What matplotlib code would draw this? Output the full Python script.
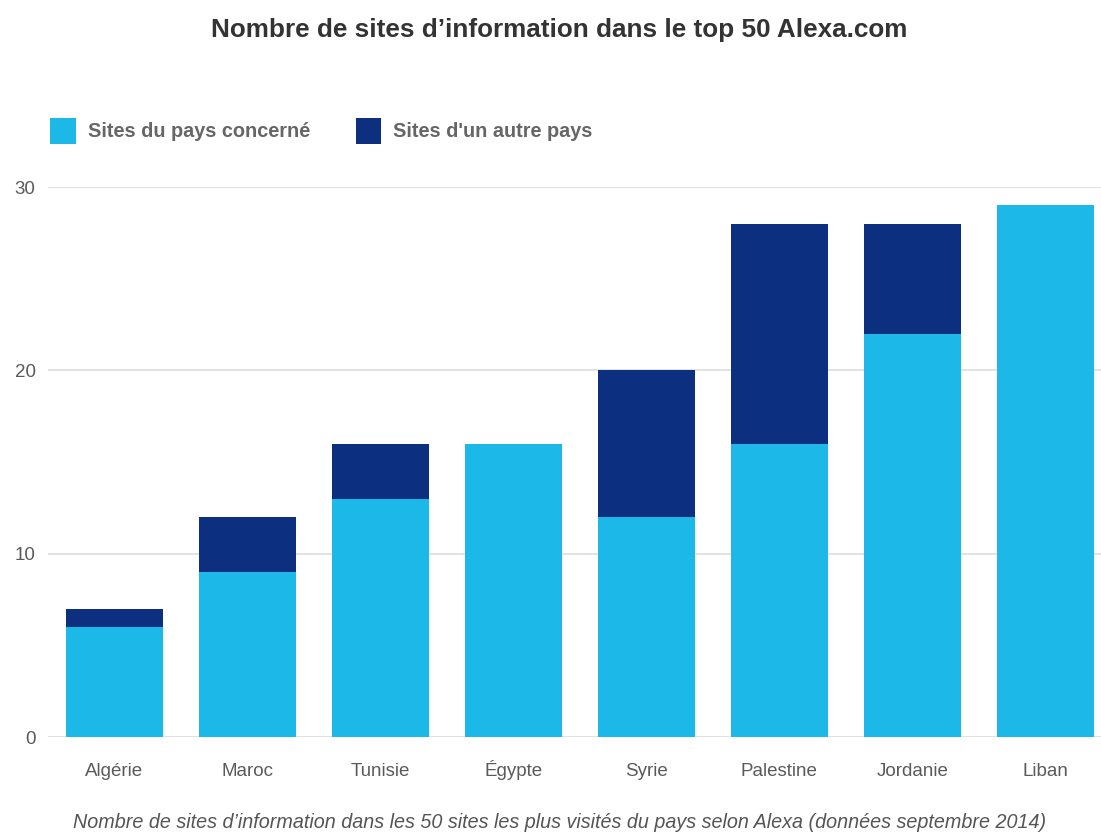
import numpy as np
from matplotlib import pyplot as plt

pays = ['Algérie', 'Maroc', 'Tunisie', 'Égypte', 'Syrie', 'Palestine', 'Jordanie', 'Liban']
sites_pays = [6, 9, 13, 16, 12, 16, 22, 29]
sites_autre = [1, 3, 3, 0, 8, 12, 6, 0]
yticks = [0, 10, 20, 30]

light = '#1cb8e8'
dark = '#0c2f80'

plt.rcParams['font.family'] = ['Liberation Sans', 'DejaVu Sans']

fig = plt.figure(figsize=(11.01, 8.34), dpi=100)
ax = fig.add_axes([48 / 1101, 97 / 834, 1 - 48 / 1101, 550 / 834])

x = np.arange(len(pays))
ax.bar(x, sites_pays, width=0.73, color=light, label='Sites du pays concerné', zorder=3)
ax.bar(x, sites_autre, width=0.73, bottom=sites_pays, color=dark, label="Sites d'un autre pays", zorder=3)

ax.set_xlim(-0.5, 7.42)
ax.set_ylim(0, 30)
ax.set_yticks(yticks)
ax.grid(axis='y', color='#dddddd', linewidth=1.2, zorder=0)
ax.set_axisbelow(True)
for s in ax.spines.values():
    s.set_visible(False)
ax.tick_params(axis='both', length=0, labelsize=13.5, colors='#5a5a5a')
ax.tick_params(axis='x', pad=28)
ax.tick_params(axis='y', pad=9)
ax.set_xticks(x)
ax.set_xticklabels(pays)
for lbl in ax.get_xticklabels():
    lbl.set_verticalalignment('baseline')
for lbl in ax.get_yticklabels():
    lbl.set_clip_on(False)

fig.text(0.508, 0.964, "Nombre de sites d\u2019information dans le top 50 Alexa.com",
         ha='center', va='center', fontsize=18.8, fontweight='bold', color='#333333')

leg = fig.legend(loc='center left', bbox_to_anchor=(32 / 1101, 1 - 131 / 834), ncol=2,
                 frameon=False, handlelength=1.3, handleheight=1.65, handletextpad=0.6,
                 columnspacing=2.3, fontsize=14.3)
for t in leg.get_texts():
    t.set_color('#666666')
    t.set_fontweight('bold')

fig.text(0.508, 1 - 822 / 834,
         "Nombre de sites d\u2019information dans les 50 sites les plus visités du pays selon Alexa (données septembre 2014)",
         ha='center', va='center', fontsize=14.2, style='italic', color='#555555')

plt.savefig('out.png', dpi=100)
